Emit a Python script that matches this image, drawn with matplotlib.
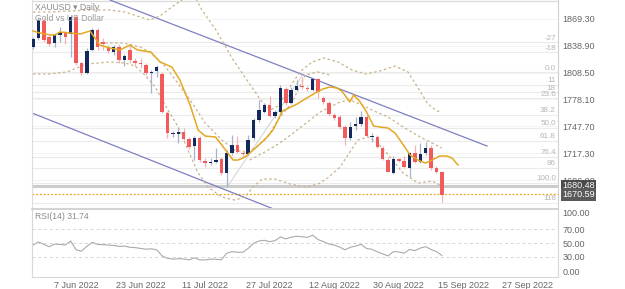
import matplotlib

matplotlib.use("Agg")

import matplotlib.pyplot as plt
import numpy as np

plt.rcParams["font.family"] = ["Liberation Sans", "DejaVu Sans"]

# daily candles (open, high, low, close), one per trading day
opens = [1837.6, 1847.8, 1867.0, 1848.9, 1842.1, 1851.2, 1853.4, 1852.3, 1871.6, 1819.4,
         1808.1, 1834.2, 1856.8, 1843.2, 1837.6, 1831.9, 1837.6, 1822.8, 1834.2, 1821.7,
         1819.4, 1817.2, 1808.1, 1810.4, 1807.0, 1762.8, 1739.0, 1739.0, 1741.3, 1733.3,
         1725.4, 1734.5, 1708.4, 1706.1, 1707.3, 1710.7, 1694.8, 1717.5, 1726.5, 1717.5,
         1716.3, 1734.5, 1754.9, 1764.0, 1771.9, 1759.4, 1764.0, 1790.0, 1774.1, 1788.9,
         1793.4, 1791.1, 1788.9, 1801.3, 1779.8, 1774.1, 1760.5, 1758.3, 1746.9, 1734.5,
         1748.1, 1750.3, 1758.3, 1735.6, 1735.6, 1723.1, 1709.5, 1694.8, 1710.7, 1708.4,
         1700.5, 1717.5, 1707.3, 1717.5, 1723.1, 1700.5, 1695.9]
highs = [1848.9, 1871.6, 1870.4, 1851.2, 1853.4, 1860.2, 1855.7, 1873.8, 1873.8, 1820.6,
         1836.4, 1859.1, 1859.1, 1847.8, 1839.8, 1839.8, 1841.0, 1829.6, 1839.8, 1825.1,
         1825.1, 1819.4, 1811.5, 1817.2, 1809.3, 1765.1, 1742.4, 1745.8, 1745.8, 1735.6,
         1736.7, 1736.7, 1711.8, 1711.8, 1723.1, 1712.9, 1720.9, 1737.9, 1736.7, 1720.9,
         1737.9, 1757.1, 1777.5, 1774.1, 1782.1, 1766.2, 1794.5, 1792.3, 1792.3, 1800.2,
         1803.6, 1793.4, 1802.5, 1802.5, 1782.1, 1776.4, 1762.8, 1760.5, 1749.2, 1752.6,
         1758.3, 1765.1, 1760.5, 1740.1, 1737.9, 1725.4, 1712.9, 1714.1, 1711.8, 1714.1,
         1718.6, 1726.5, 1728.8, 1729.9, 1726.5, 1702.7, 1697.1]
lows = [1835.3, 1845.5, 1843.2, 1838.7, 1837.6, 1843.2, 1841.0, 1826.2, 1817.2, 1805.9,
        1807.0, 1833.0, 1834.2, 1834.2, 1830.8, 1828.5, 1819.4, 1816.0, 1819.4, 1816.0,
        1813.8, 1805.9, 1785.5, 1803.6, 1762.8, 1734.5, 1735.6, 1728.8, 1732.2, 1722.0,
        1709.5, 1707.3, 1701.6, 1703.9, 1706.1, 1692.5, 1679.0, 1715.2, 1717.5, 1712.9,
        1715.2, 1732.2, 1752.6, 1762.8, 1758.3, 1757.1, 1762.8, 1771.9, 1773.0, 1787.7,
        1790.0, 1787.7, 1787.7, 1779.8, 1773.0, 1759.4, 1754.9, 1744.7, 1726.5, 1732.2,
        1743.5, 1748.1, 1735.6, 1729.9, 1723.1, 1709.5, 1695.9, 1693.7, 1707.3, 1700.5,
        1690.3, 1706.1, 1706.1, 1715.2, 1698.2, 1694.8, 1662.0]
closes = [1846.6, 1868.2, 1845.5, 1841.0, 1851.2, 1854.6, 1848.9, 1871.6, 1819.4, 1808.1,
          1833.0, 1856.8, 1837.6, 1841.0, 1833.0, 1837.6, 1822.8, 1827.4, 1822.8, 1819.4,
          1818.3, 1808.1, 1809.3, 1814.9, 1764.0, 1740.1, 1740.1, 1741.3, 1733.3, 1724.3,
          1734.5, 1709.5, 1706.1, 1707.3, 1709.5, 1694.8, 1717.5, 1726.5, 1718.6, 1716.3,
          1732.2, 1754.9, 1766.2, 1771.9, 1759.4, 1764.0, 1791.1, 1774.1, 1788.9, 1793.4,
          1792.3, 1790.0, 1801.3, 1786.6, 1775.3, 1761.7, 1757.1, 1746.9, 1734.5, 1746.9,
          1750.3, 1758.3, 1736.7, 1736.7, 1724.3, 1710.7, 1695.9, 1710.7, 1708.4, 1701.6,
          1717.5, 1707.3, 1716.3, 1723.1, 1700.5, 1695.9, 1669.9]

rsi = [47.0, 51.5, 48.0, 44.6, 48.3, 48.0, 47.0, 53.0, 40.0, 38.0,
       45.0, 51.0, 48.0, 47.5, 47.0, 46.5, 45.0, 45.5, 43.7, 43.2,
       42.0, 40.8, 41.5, 40.0, 31.0, 27.5, 26.3, 27.0, 26.5, 25.2,
       28.3, 25.2, 25.2, 26.2, 26.2, 25.2, 35.0, 37.3, 36.4, 36.4,
       42.0, 49.5, 53.0, 54.0, 52.0, 53.5, 59.0, 56.0, 58.5, 60.0,
       59.2, 58.3, 61.5, 55.0, 52.0, 48.5, 47.0, 44.0, 40.0, 43.7,
       45.5, 48.0, 42.0, 40.8, 37.0, 34.0, 31.0, 37.3, 36.9, 35.0,
       40.5, 38.8, 42.5, 44.6, 40.5, 37.3, 31.74]

# moving average (orange) and band lines as (day, price)
ma_x = [0, 1.3, 3.2, 4.1, 5.0, 6.9, 8.8, 10.6, 12.4, 14.3, 16.2, 18.0, 19.4, 21.9,
        23.6, 25.8, 27.3, 29.2, 30.7, 32.0, 33.9, 35.1, 36.2, 37.2, 38.1, 39.4,
        41.3, 43.2, 44.6, 46.4, 49.1, 50.9, 52.8, 53.9, 55.2, 56.5, 57.4, 58.9,
        59.6, 60.7, 62.0, 63.3, 64.5, 66.0, 67.3, 68.6, 70.1, 71.6, 72.9, 74.2,
        75.6, 76.9, 77.9, 79.0]
ma_y = [1855.7, 1853.4, 1851.2, 1851.2, 1854.6, 1853.4, 1852.3, 1855.7, 1839.8, 1836.4,
        1834.2, 1839.8, 1834.2, 1831.9, 1820.6, 1814.9, 1800.2, 1771.9, 1743.5, 1736.7,
        1735.6, 1726.5, 1717.5, 1709.5, 1709.5, 1712.9, 1722.8, 1733.3, 1743.5, 1765.1,
        1773.0, 1779.8, 1786.6, 1790.0, 1792.3, 1791.1, 1787.7, 1775.3, 1783.2, 1776.4,
        1764.0, 1748.1, 1746.9, 1745.8, 1740.1, 1728.8, 1715.2, 1709.5, 1706.1, 1709.5,
        1714.1, 1714.1, 1711.8, 1703.9]

outer_up_x = [0, 3.2, 6.9, 10.6, 14.3, 17.1, 19.9, 21.7, 23.6, 25.8, 27.7, 28.4, 29.9,
              31.4, 34.0, 37.0, 40.0, 42.6, 44.1, 45.5, 47.4, 49.6, 51.9, 54.1, 56.7,
              59.3, 61.9, 64.5, 67.3, 69.7, 71.6, 73.4, 75.1, 76.0]
outer_up_y = [1877.2, 1877.2, 1878.4, 1879.5, 1879.5, 1877.2, 1871.6, 1868.2, 1872.7,
              1882.9, 1890.8, 1895.4, 1896.5, 1879.5, 1856.8, 1825.1, 1797.9, 1775.3,
              1766.2, 1770.7, 1788.9, 1809.3, 1820.6, 1825.1, 1820.6, 1811.5, 1807.0,
              1810.4, 1816.0, 1809.3, 1791.1, 1773.0, 1765.1, 1764.0]

outer_lo_x = [0, 3.2, 6.3, 10.0, 14.3, 17.1, 19.0, 20.8, 22.7, 25.1, 27.0, 28.8, 30.7,
              32.5, 35.1, 37.5, 39.4, 40.9, 42.6, 45.0, 47.8, 50.6, 53.0, 54.8, 57.1,
              58.9, 60.4, 62.3, 64.1, 66.4, 68.8, 71.6, 74.2, 76.0]
outer_lo_y = [1807.0, 1807.0, 1809.3, 1818.3, 1820.6, 1819.4, 1816.0, 1805.9, 1792.3,
              1766.2, 1746.9, 1720.9, 1694.8, 1679.0, 1667.6, 1664.2, 1667.6, 1679.0,
              1688.0, 1688.0, 1682.4, 1679.0, 1682.4, 1689.2, 1701.6, 1718.6, 1732.2,
              1735.6, 1728.8, 1712.9, 1694.8, 1683.4, 1685.7, 1680.1]

inner_a_x = [12.5, 16.7, 19.9, 21.7, 24.5, 26.9, 29.6, 32.0, 35.1, 37.5, 39.4, 41.3,
             43.7, 45.9, 48.1, 50.6, 52.9, 55.2]
inner_a_y = [1842.1, 1842.1, 1837.6, 1832.0, 1816.0, 1796.8, 1774.1, 1751.5, 1732.2,
             1720.9, 1718.6, 1723.1, 1736.7, 1758.3, 1774.1, 1805.9, 1809.3, 1805.9]

inner_b_x = [40.3, 43.1, 45.9, 49.6, 53.4, 57.1, 58.9, 60.8, 63.0, 66.0, 69.1, 72.3,
             74.2, 76.0]
inner_b_y = [1709.5, 1718.6, 1728.8, 1745.8, 1763.9, 1775.3, 1777.5, 1773.0, 1766.2,
             1758.3, 1745.8, 1734.5, 1728.8, 1723.1]

price_ticks = [1686.90, 1717.30, 1747.70, 1778.10, 1808.50, 1838.90, 1869.30]
fib_high = 1809.0
fib_low = 1683.5
fib_levels = [-27.2, -18.0, 0.0, 11.4, 18.0, 23.6, 38.2, 50.0, 61.8, 76.4, 86.4, 100.0, 118.0]
fib_labels = ["-27", "-18", "0.0", "11", "18", "23.6", "38.2", "50.0", "61.8", "76.4", "86", "100.0", "118"]

date_pos = [8, 20, 32, 44, 56, 68, 80, 92]
date_labels = ["7 Jun 2022", "23 Jun 2022", "11 Jul 2022", "27 Jul 2022",
               "12 Aug 2022", "30 Aug 2022", "15 Sep 2022", "27 Sep 2022"]
rsi_ticks = [0, 30, 50, 70, 100]

# channel lines and fib swing (day, price)
chan_up = ([14.3, 84.4], [1890.8, 1725.4])
chan_lo = ([-0.2, 46.0], [1762.8, 1651.0])
swing = ([36.1, 50.0], [1679.0, 1804.7])

last_prev = 1680.48
last_price = 1670.59

BLUE = "#13285c"
BLUE_WICK = "#a7b2cc"
RED = "#f25b5b"
RED_WICK = "#f6b3b3"
BAND = "#c9b48c"
GOLD = "#e5a823"
TXT = "#666666"

fig = plt.figure(figsize=(6.25, 2.89), dpi=100)
ax = fig.add_axes([0.0512, 0.2803, 0.8416, 0.7197])
ax_rsi = fig.add_axes([0.0512, 0.0415, 0.8416, 0.2353])

xlim = (-0.19, 97.6)
ylim = (1655.2, 1890.8)

# grid / fib lines
for lvl, lab in zip(fib_levels, fib_labels):
    y = fib_high - (fib_high - fib_low) * lvl / 100.0
    ax.axhline(y, color="#ebebeb", lw=0.8, zorder=0)
    ax.text(97.2, y + 0.6, lab, ha="right", va="bottom", fontsize=5.8, color="#b5b5b5", zorder=1)
for t in price_ticks:
    ax.axhline(t, color="#f3f3f3", lw=0.7, zorder=0)
ax.axhline(ylim[1] - 1.5, color="#dddddd", lw=1.0, zorder=0)

# channel + swing
ax.plot(*chan_up, color="#7e80c0", lw=0.9, zorder=2)
ax.plot(*chan_lo, color="#7e80c0", lw=0.9, zorder=2)
ax.plot(*swing, color="#d6d6d6", lw=0.8, zorder=2)

# bands and average
for bx, by in [(outer_up_x, outer_up_y), (outer_lo_x, outer_lo_y),
               (inner_a_x, inner_a_y), (inner_b_x, inner_b_y)]:
    ax.plot(bx, by, color=BAND, lw=0.9, ls=(0, (2, 2)), zorder=2)
ax.plot(ma_x, ma_y, color=GOLD, lw=1.1, zorder=4)

# candles
o = np.array(opens)
c = np.array(closes)
x = np.arange(len(o))
up = c >= o
ax.vlines(x[up], np.array(lows)[up], np.array(highs)[up], color=BLUE_WICK, lw=0.9, zorder=3)
ax.vlines(x[~up], np.array(lows)[~up], np.array(highs)[~up], color=RED_WICK, lw=0.9, zorder=3)
body_lo = np.minimum(o, c)
body_h = np.maximum(np.abs(c - o), 1.2)
ax.bar(x[up], body_h[up], bottom=body_lo[up], width=0.64, color=BLUE, zorder=3, linewidth=0)
ax.bar(x[~up], body_h[~up], bottom=body_lo[~up], width=0.64, color=RED, zorder=3, linewidth=0)

# last price lines
ax.axhline(last_prev, color="#cccccc", lw=2.2, zorder=1)
ax.axhline(last_price, color="#f0a31c", lw=0.9, ls=(0, (1.5, 1.5)), zorder=1)

ax.set_xlim(*xlim)
ax.set_ylim(*ylim)
ax.yaxis.tick_right()
ax.set_yticks(price_ticks)
ax.set_yticklabels([f"{t:.2f}" for t in price_ticks])
ax.tick_params(axis="y", length=0, pad=3, labelsize=6.5, labelcolor=TXT)
ax.set_xticks([])
for side in ["top", "bottom"]:
    ax.spines[side].set_visible(False)
ax.spines["left"].set_color("#dddddd")
ax.spines["right"].set_color("#d0d0d0")
ax.spines["right"].set_linewidth(0.8)

for val, face in [(last_prev, "#4b4b4b"), (last_price, "#5a5a5a")]:
    ax.annotate(f"{val:.2f}", xy=(1.0, val), xycoords=("axes fraction", "data"),
                xytext=(3, 0), textcoords="offset points", ha="left", va="center",
                fontsize=6.5, color="white", zorder=6, annotation_clip=False,
                bbox=dict(boxstyle="square,pad=0.18", fc=face, ec="none"))

ax.text(0.006, 0.985, "XAUUSD \u25be Daily", transform=ax.transAxes, ha="left", va="top",
        fontsize=6.2, color="#8a8a8a")
ax.text(0.006, 0.935, "Gold vs US Dollar", transform=ax.transAxes, ha="left", va="top",
        fontsize=6.2, color="#9a9a9a")

# RSI panel
ax_rsi.plot(x, rsi, color="#aaaaaa", lw=0.8)
for lvl in [30, 50, 70]:
    ax_rsi.axhline(lvl, color="#d5d5d5", lw=0.7, ls=(0, (3, 3)))
ax_rsi.set_xlim(*xlim)
ax_rsi.set_ylim(0, 100)
ax_rsi.yaxis.tick_right()
ax_rsi.set_yticks(rsi_ticks)
ax_rsi.set_yticklabels([f"{t:.2f}" for t in rsi_ticks])
ax_rsi.tick_params(axis="y", length=0, pad=3, labelsize=6.5, labelcolor=TXT)
ylabs = ax_rsi.get_yticklabels()
ylabs[0].set_va("bottom")
ylabs[-1].set_va("top")
ax_rsi.set_xticks(date_pos)
ax_rsi.set_xticklabels(date_labels)
ax_rsi.tick_params(axis="x", length=0, pad=3, labelsize=6.5, labelcolor=TXT)
for side in ["left", "right", "bottom", "top"]:
    ax_rsi.spines[side].set_color("#d8d8d8")
ax_rsi.spines["top"].set_color("#cccccc")
ax_rsi.spines["top"].set_linewidth(1.2)
ax_rsi.text(0.006, 0.96, f"RSI(14) {rsi[-1]:.2f}", transform=ax_rsi.transAxes,
            ha="left", va="top", fontsize=6.2, color="#8a8a8a")

fig.savefig("out.png", dpi=100)
